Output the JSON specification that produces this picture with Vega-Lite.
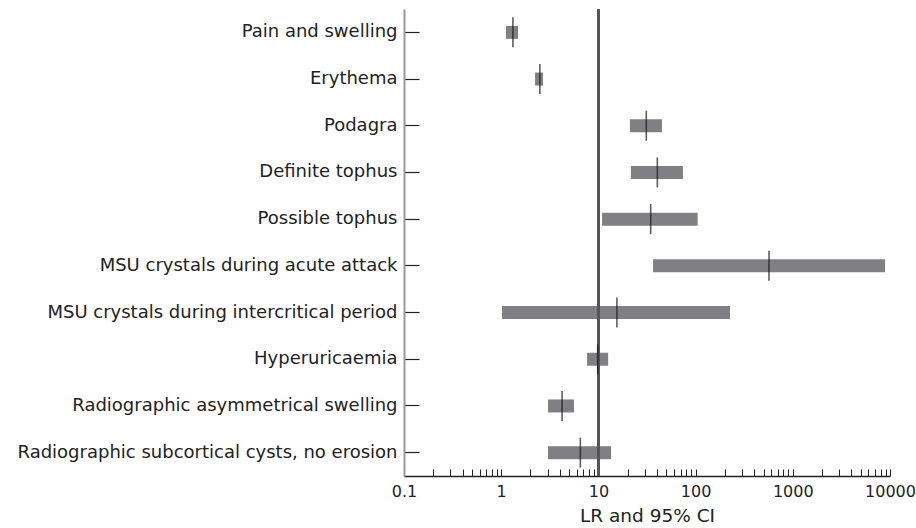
{
  "$schema": "https://vega.github.io/schema/vega-lite/v6.json",
  "autosize": "none",
  "width": 486,
  "height": 467,
  "padding": {"left": 404, "top": 9, "right": 26, "bottom": 52},
  "background": "white",
  "config": {
    "view": {"stroke": null},
    "font": "DejaVu Sans"
  },
  "data": {
    "values": [
      {"item": "Pain and swelling", "lr": 1.32, "lo": 1.12, "hi": 1.49},
      {"item": "Erythema", "lr": 2.5, "lo": 2.23, "hi": 2.69},
      {"item": "Podagra", "lr": 31.1, "lo": 21.1, "hi": 45.1},
      {"item": "Definite tophus", "lr": 40.4, "lo": 21.6, "hi": 74.1},
      {"item": "Possible tophus", "lr": 34.5, "lo": 10.9, "hi": 105},
      {"item": "MSU crystals during acute attack", "lr": 569, "lo": 36.5, "hi": 8900},
      {"item": "MSU crystals during intercritical period", "lr": 15.5, "lo": 1.02, "hi": 226},
      {"item": "Hyperuricaemia", "lr": 9.84, "lo": 7.64, "hi": 12.6},
      {"item": "Radiographic asymmetrical swelling", "lr": 4.23, "lo": 3.03, "hi": 5.61},
      {"item": "Radiographic subcortical cysts, no erosion", "lr": 6.52, "lo": 3.03, "hi": 13.5}
    ]
  },
  "layer": [
    {
      "mark": {"type": "bar", "color": "#808084", "size": 13},
      "encoding": {
        "y": {
          "field": "item",
          "type": "nominal",
          "sort": null,
          "scale": {"padding": 0},
          "axis": {
            "title": null,
            "domainColor": "#999999",
            "domainWidth": 2,
            "tickColor": "#222222",
            "tickWidth": 1.2,
            "tickSize": -15,
            "labelPadding": 22,
            "labelLimit": 0,
            "labelFontSize": 18,
            "labelColor": "#222222"
          }
        },
        "x": {
          "field": "lo",
          "type": "quantitative",
          "scale": {"type": "log", "domain": [0.1, 10000], "nice": false},
          "axis": {
            "title": "LR and 95% CI",
            "titleFontSize": 18.5,
            "titleFontWeight": "normal",
            "titleColor": "#222222",
            "titlePadding": 7,
            "grid": false,
            "values": [0.1,0.2,0.3,0.4,0.5,0.6,0.7,0.8,0.9,1,2,3,4,5,6,7,8,9,10,20,30,40,50,60,70,80,90,100,200,300,400,500,600,700,800,900,1000,2000,3000,4000,5000,6000,7000,8000,9000,10000],
            "format": "~g",
            "labelExpr": "abs(log(datum.value)/LN10 - round(log(datum.value)/LN10)) < 0.001 ? datum.label : ''",
            "labelOverlap": false,
            "labelFlush": false,
            "labelFontSize": 16,
            "labelColor": "#222222",
            "labelPadding": 14,
            "domainColor": "#222222",
            "domainWidth": 1.5,
            "tickColor": "#222222",
            "tickSize": -7,
            "tickWidth": 1
          }
        },
        "x2": {"field": "hi"}
      }
    },
    {
      "mark": {"type": "rule", "color": "#555555", "strokeWidth": 2},
      "encoding": {"x": {"datum": 10, "type": "quantitative"}}
    },
    {
      "mark": {"type": "tick", "orient": "vertical", "color": "#1a1a1a", "size": 30, "thickness": 1.6},
      "encoding": {
        "x": {"field": "lr", "type": "quantitative"},
        "y": {"field": "item", "type": "nominal", "sort": null}
      }
    }
  ]
}
